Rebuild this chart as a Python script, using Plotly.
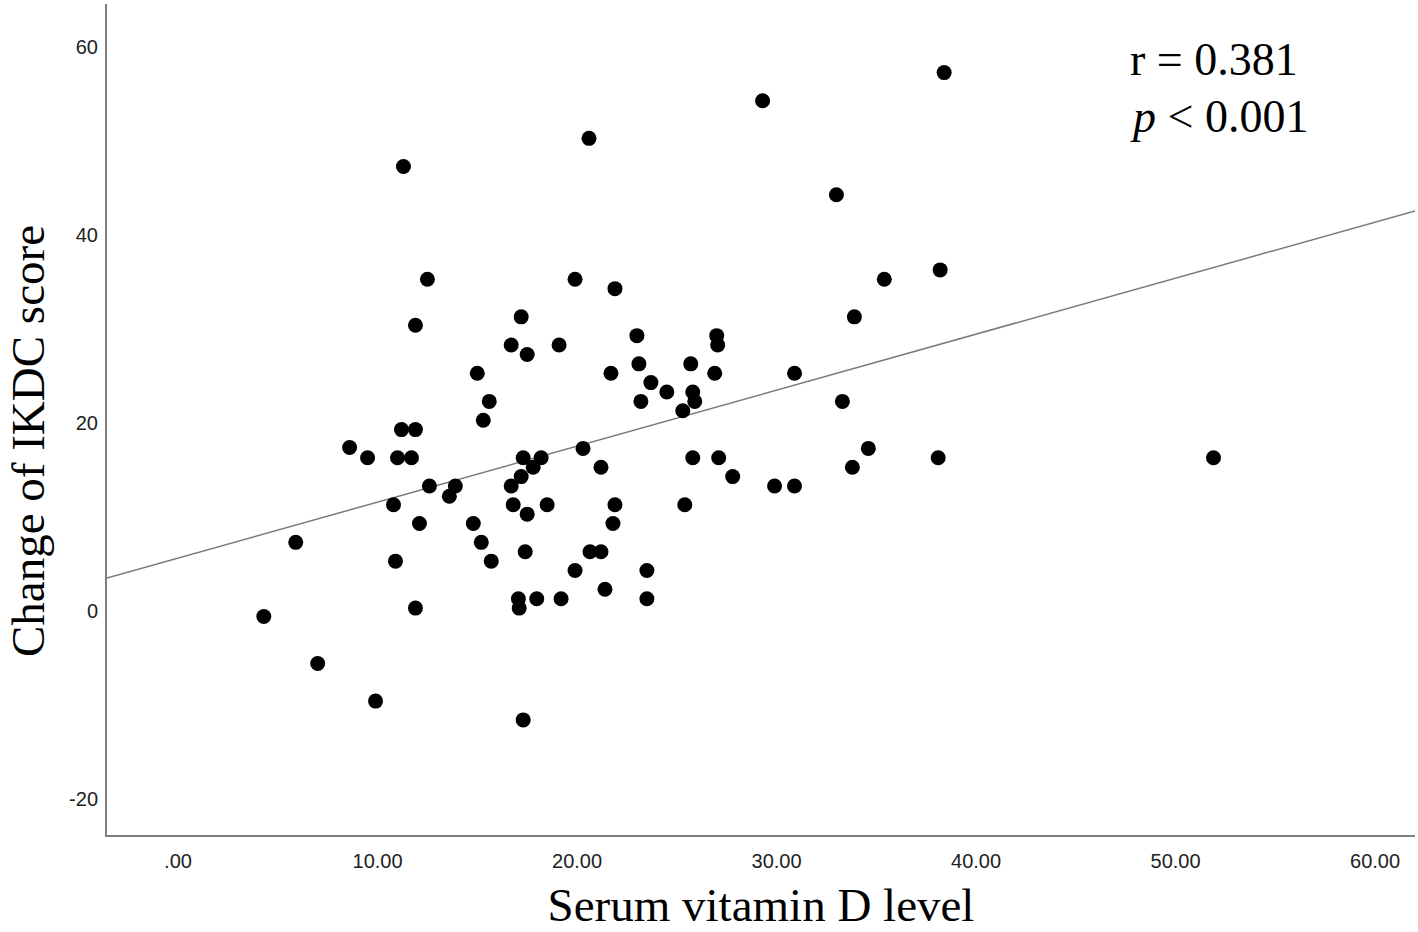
import plotly.graph_objects as go

# Data
vitamin_d = [4.3, 5.9, 7.0, 8.6, 9.5, 9.9, 10.8, 10.9, 11.0, 11.2, 11.3, 11.7, 11.9, 11.9, 11.9,
             12.1, 12.5, 12.6, 13.6, 13.9, 14.8, 15.0, 15.2, 15.3, 15.6, 15.7, 16.7, 16.7, 16.8,
             17.06, 17.1, 17.2, 17.2, 17.3, 17.3, 17.4, 17.5, 17.5, 17.8, 17.98, 18.2, 18.5,
             19.1, 19.2, 19.9, 19.9, 20.3, 20.6, 20.65, 21.2, 21.2, 21.4, 21.7, 21.9, 21.9, 21.8,
             23.0, 23.1, 23.2, 23.5, 23.5, 23.7, 24.5, 25.3, 25.4, 25.7, 25.8, 25.9, 25.8,
             26.9, 27.0, 27.05, 27.1, 27.8, 29.3, 29.9, 30.9, 30.9, 33.0, 33.3, 33.8, 33.9,
             34.6, 35.4, 38.1, 38.2, 38.4, 51.9]
ikdc_change = [-0.6, 7.3, -5.6, 17.4, 16.3, -9.6, 11.3, 5.3, 16.3, 19.3, 47.3, 16.3, 19.3, 30.4, 0.3,
               9.3, 35.3, 13.3, 12.2, 13.3, 9.3, 25.3, 7.3, 20.3, 22.3, 5.3, 28.3, 13.3, 11.3,
               1.3, 0.3, 31.3, 14.3, 16.3, -11.6, 6.3, 27.3, 10.3, 15.3, 1.3, 16.3, 11.3,
               28.3, 1.3, 35.3, 4.3, 17.3, 50.3, 6.3, 15.3, 6.3, 2.3, 25.3, 34.3, 11.3, 9.3,
               29.3, 26.3, 22.3, 4.3, 1.3, 24.3, 23.3, 21.3, 11.3, 26.3, 23.3, 22.3, 16.3,
               25.3, 29.3, 28.3, 16.3, 14.3, 54.3, 13.3, 25.3, 13.3, 44.3, 22.3, 15.3, 31.3,
               17.3, 35.3, 16.3, 36.3, 57.3, 16.3]

fit_intercept = 5.62
fit_slope = 0.596

x_tick_vals = [0, 10, 20, 30, 40, 50, 60]
x_tick_text = [".00", "10.00", "20.00", "30.00", "40.00", "50.00", "60.00"]
y_tick_vals = [-20, 0, 20, 40, 60]
y_tick_text = ["-20", "0", "20", "40", "60"]

x_range = [-3.56, 62.0]
y_range = [-23.85, 64.6]

fit_x = list(x_range)
fit_y = [fit_intercept + fit_slope * v for v in fit_x]

fig = go.Figure()
fig.add_trace(go.Scatter(x=fit_x, y=fit_y, mode="lines",
                         line=dict(color="#7a7a7a", width=1.5),
                         showlegend=False, hoverinfo="skip"))
fig.add_trace(go.Scatter(x=vitamin_d, y=ikdc_change, mode="markers",
                         marker=dict(color="black", size=15, line=dict(width=0)),
                         showlegend=False))

axis_font = dict(family="Liberation Sans, Arial, sans-serif", size=20, color="#222222")
title_font = dict(family="Liberation Serif, Times New Roman, serif", size=47, color="black")
ann_font = dict(family="Liberation Serif, Times New Roman, serif", size=46, color="black")

L, R, T, B = 107, 3, 4, 97
W, H = 1418, 932

fig.update_layout(
    width=W, height=H,
    margin=dict(l=L, r=R, t=T, b=B),
    paper_bgcolor="white", plot_bgcolor="white",
    xaxis=dict(range=x_range, tickvals=x_tick_vals, ticktext=x_tick_text,
               showgrid=False, zeroline=False, showline=True, linecolor="#808080", linewidth=2,
               ticks="", tickfont=axis_font, ticklabelstandoff=7,
               title=dict(text="Serum vitamin D level", font=title_font, standoff=17),
               automargin=False),
    yaxis=dict(range=y_range, tickvals=y_tick_vals, ticktext=y_tick_text,
               showgrid=False, zeroline=False, showline=True, linecolor="#808080", linewidth=2,
               ticks="", tickfont=axis_font, ticklabelstandoff=3,
               automargin=False),
)

plot_w = W - L - R
plot_h = H - T - B

def to_paper(px, py):
    return (px - L) / plot_w, 1 - (py - T) / plot_h

# Y-axis title (rotated), placed like the reference
yx, yy = to_paper(28, 441)
fig.add_annotation(x=yx, y=yy, xref="paper", yref="paper", text="Change of IKDC score",
                   textangle=-90, showarrow=False, font=title_font, borderpad=0,
                   xanchor="center", yanchor="middle")

labels = ["r = 0.381", "<i>p</i> < 0.001"]
label_px = [(1128, 60), (1128, 117)]
for text, (px, py) in zip(labels, label_px):
    ax_, ay_ = to_paper(px, py)
    fig.add_annotation(x=ax_, y=ay_, xref="paper", yref="paper", text=text, showarrow=False,
                       font=ann_font, xanchor="left", yanchor="middle")

fig.write_html("out.html", config={"displayModeBar": False},
               post_script="document.body.style.margin='0px';")
